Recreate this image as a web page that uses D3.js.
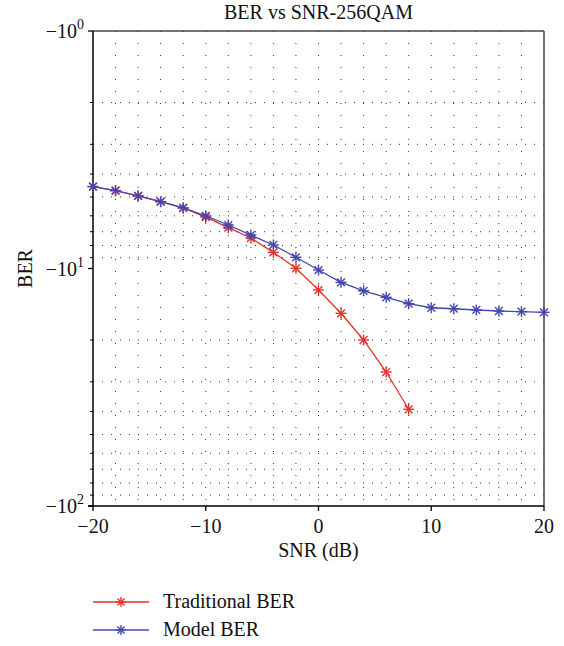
<!DOCTYPE html>
<html>
<head>
<meta charset="utf-8">
<script src="https://cdn.jsdelivr.net/npm/d3@7"></script>
<style>
  body { margin: 0; background: #fff; }
  text { font-family: "Liberation Serif", "DejaVu Serif", serif; fill: #111; }
</style>
</head>
<body>
<div id="chart"></div>
<script>
// SNR values (dB)
const snrModel = [-20, -18, -16, -14, -12, -10, -8, -6, -4, -2, 0, 2, 4, 6, 8, 10, 12, 14, 16, 18, 20];
const snrTraditional = [-20, -18, -16, -14, -12, -10, -8, -6, -4, -2, 0, 2, 4, 6, 8];

// BER values (negative log axis)
const berModel = [-4.52, -4.70, -4.95, -5.23, -5.56, -6.01, -6.56, -7.23, -7.96, -8.97,
  -10.15, -11.43, -12.41, -13.22, -14.07, -14.63, -14.77, -14.95, -15.10, -15.20, -15.29];
const berTraditional = [-4.52, -4.70, -4.95, -5.23, -5.56, -6.08, -6.73, -7.44, -8.55, -9.98,
  -12.32, -15.44, -20.0, -27.28, -39.15];

const xTicks = [-20, -10, 0, 10, 20];
const yMajor = [-1, -10, -100];
const legendLabels = ['Traditional BER', 'Model BER'];

const W = 564, H = 646;
const margin = { left: 93, right: 20, top: 31, bottom: 140 };
const colors = { trad: '#e3342b', model: '#4447ad' };
const fontSize = '20px';

const svg = d3.select('#chart').append('svg')
  .attr('width', W).attr('height', H);

const x = d3.scaleLinear().domain([-20, 20]).range([margin.left, W - margin.right]);
const y = d3.scaleLog().domain([-1, -100]).range([margin.top, H - margin.bottom]);

// minor log values between the decades
const yMinor = [];
[1, 10].forEach(d => { for (let k = 2; k <= 9; k++) yMinor.push(-k * d); });
const xGrid = d3.range(-18, 20, 2);

// Grid (dotted)
const grid = svg.append('g').attr('class', 'grid');
grid.selectAll('.vg').data(xGrid).join('line')
  .attr('x1', d => x(d)).attr('x2', d => x(d))
  .attr('y1', y(-1)).attr('y2', y(-100))
  .attr('stroke', '#333').attr('stroke-width', 1)
  .attr('stroke-dasharray', '1,11');
grid.selectAll('.hg').data(yMinor).join('line')
  .attr('x1', x(-20)).attr('x2', x(20))
  .attr('y1', d => y(d)).attr('y2', d => y(d))
  .attr('stroke', '#333').attr('stroke-width', 1)
  .attr('stroke-dasharray', '1,8');

// Box: top / right in gray
svg.append('line')
  .attr('x1', x(-20)).attr('x2', x(20)).attr('y1', y(-1)).attr('y2', y(-1))
  .attr('stroke', '#444').attr('stroke-width', 1.5);
svg.append('line')
  .attr('x1', x(20)).attr('x2', x(20)).attr('y1', y(-1)).attr('y2', y(-100))
  .attr('stroke', '#444').attr('stroke-width', 1.5);

// Axes
const axisG = svg.append('g');
axisG.append('line')
  .attr('x1', x(-20)).attr('x2', x(-20)).attr('y1', y(-1)).attr('y2', y(-100))
  .attr('stroke', '#000').attr('stroke-width', 1.5);
axisG.append('line')
  .attr('x1', x(-20) - 5).attr('x2', x(20)).attr('y1', y(-100)).attr('y2', y(-100))
  .attr('stroke', '#000').attr('stroke-width', 1.5);

// y ticks
axisG.selectAll('.ymaj').data(yMajor).join('line')
  .attr('x1', x(-20) - 5).attr('x2', x(-20))
  .attr('y1', d => y(d)).attr('y2', d => y(d))
  .attr('stroke', '#000').attr('stroke-width', 1.3);
axisG.selectAll('.ymin').data(yMinor).join('line')
  .attr('x1', x(-20) - 3).attr('x2', x(-20))
  .attr('y1', d => y(d)).attr('y2', d => y(d))
  .attr('stroke', '#000').attr('stroke-width', 1);

const yLab = axisG.selectAll('.ylab').data(yMajor).join('text')
  .attr('x', x(-20) - 9)
  .attr('y', d => y(d) + 7)
  .attr('text-anchor', 'end')
  .style('font-size', fontSize);
yLab.append('tspan').text('\u221210');
yLab.append('tspan')
  .attr('dy', -9)
  .style('font-size', '14px')
  .text(d => Math.round(Math.log10(-d)));

// x ticks
axisG.selectAll('.xt').data(xTicks).join('line')
  .attr('x1', d => x(d)).attr('x2', d => x(d))
  .attr('y1', y(-100)).attr('y2', y(-100) + 5)
  .attr('stroke', '#000').attr('stroke-width', 1.3);
axisG.selectAll('.xlab').data(xTicks).join('text')
  .attr('x', d => x(d))
  .attr('y', y(-100) + 27)
  .attr('text-anchor', 'middle')
  .style('font-size', fontSize)
  .text(d => d < 0 ? '\u2212' + Math.abs(d) : d);

// Labels
svg.append('text')
  .attr('x', (x(-20) + x(20)) / 2).attr('y', 19)
  .attr('text-anchor', 'middle').style('font-size', fontSize)
  .text('BER vs SNR-256QAM');
svg.append('text')
  .attr('x', (x(-20) + x(20)) / 2).attr('y', 557)
  .attr('text-anchor', 'middle').style('font-size', fontSize)
  .text('SNR (dB)');
svg.append('text')
  .attr('transform', `translate(32, ${y(-10)}) rotate(-90)`)
  .attr('text-anchor', 'middle').style('font-size', fontSize)
  .text('BER');

// Asterisk marker
function star(g, cx, cy, color, r = 5.5) {
  const m = g.append('g').attr('transform', `translate(${cx},${cy})`)
    .attr('stroke', color).attr('stroke-width', 1.4);
  [0, 45, 90, 135].forEach(a => {
    const rad = a * Math.PI / 180;
    m.append('line')
      .attr('x1', -r * Math.cos(rad)).attr('y1', -r * Math.sin(rad))
      .attr('x2', r * Math.cos(rad)).attr('y2', r * Math.sin(rad));
  });
}

const line = d3.line().x(d => x(d[0])).y(d => y(d[1]));

function drawSeries(xs, ys, color) {
  const pts = xs.map((v, i) => [v, ys[i]]);
  const g = svg.append('g');
  g.append('path').datum(pts)
    .attr('d', line).attr('fill', 'none')
    .attr('stroke', color).attr('stroke-width', 1.3);
  pts.forEach(p => star(g, x(p[0]), y(p[1]), color));
}

drawSeries(snrTraditional, berTraditional, colors.trad);
drawSeries(snrModel, berModel, colors.model);

// Legend
const legend = svg.append('g');
[colors.trad, colors.model].forEach((c, i) => {
  const ly = 602 + i * 28;
  legend.append('line')
    .attr('x1', 93).attr('x2', 149).attr('y1', ly).attr('y2', ly)
    .attr('stroke', c).attr('stroke-width', 1.3);
  star(legend, 121, ly, c, 5);
  legend.append('text')
    .attr('x', 163).attr('y', ly + 6)
    .style('font-size', fontSize)
    .text(legendLabels[i]);
});
</script>
</body>
</html>
